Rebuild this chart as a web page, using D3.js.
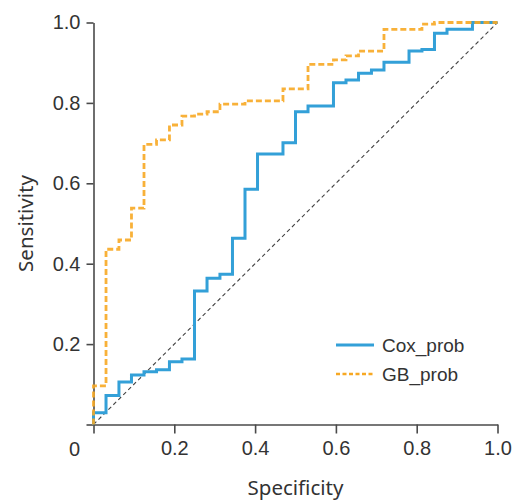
<!DOCTYPE html>
<html>
<head>
<meta charset="utf-8">
<script src="https://cdn.jsdelivr.net/npm/d3@7"></script>
<style>
  html, body { margin: 0; padding: 0; background: #fff; }
  svg { display: block; }
</style>
</head>
<body>
<svg id="chart" width="513" height="500"></svg>
<script>
// ROC step curves: each point is the right end of a horizontal run
const coxSpec = [0, 0.031, 0.063, 0.094, 0.125, 0.156, 0.188, 0.219, 0.25, 0.281, 0.313, 0.344, 0.375, 0.406, 0.469, 0.5, 0.531, 0.594, 0.625, 0.656, 0.688, 0.719, 0.781, 0.813, 0.844, 0.875, 0.938, 1.0];
const coxSens = [0, 0.029, 0.072, 0.106, 0.123, 0.131, 0.136, 0.156, 0.163, 0.332, 0.364, 0.374, 0.463, 0.585, 0.673, 0.701, 0.778, 0.792, 0.850, 0.857, 0.874, 0.882, 0.901, 0.929, 0.933, 0.973, 0.983, 1.0];

const gbSpec = [0, 0.031, 0.063, 0.094, 0.125, 0.156, 0.188, 0.219, 0.25, 0.281, 0.313, 0.375, 0.469, 0.531, 0.594, 0.625, 0.656, 0.719, 0.813, 0.844, 1.0];
const gbSens = [0, 0.096, 0.436, 0.459, 0.538, 0.697, 0.708, 0.745, 0.767, 0.772, 0.778, 0.797, 0.805, 0.835, 0.896, 0.907, 0.917, 0.929, 0.983, 0.996, 1.0];

const tickValues = [0, 0.2, 0.4, 0.6, 0.8, 1.0];
const tickLabels = ["", "0.2", "0.4", "0.6", "0.8", "1.0"];
const seriesNames = ["Cox_prob", "GB_prob"];

const colBlue = "#33a0d8";
const colOrange = "#f7a823";
const axisCol = "#4a4a4a";
const textCol = "#333";

const svg = d3.select("#chart");

const x = d3.scaleLinear().domain([0, 1]).range([93.5, 497.5]);
const y = d3.scaleLinear().domain([0, 1]).range([424.5, 22.5]);

// reference diagonal
svg.append("line")
  .attr("x1", x(0)).attr("y1", y(0))
  .attr("x2", x(1)).attr("y2", y(1))
  .attr("stroke", "#444").attr("stroke-width", 1.1)
  .attr("stroke-dasharray", "4,3");

// axes
const xAxis = svg.append("g")
  .attr("transform", `translate(0,${y(0)})`)
  .call(d3.axisBottom(x).tickValues(tickValues)
    .tickFormat((d, i) => tickLabels[i]).tickSize(9).tickSizeOuter(0).tickPadding(7));

const yAxis = svg.append("g")
  .attr("transform", `translate(${x(0)},0)`)
  .call(d3.axisLeft(y).tickValues(tickValues)
    .tickFormat((d, i) => tickLabels[i]).tickSize(7).tickSizeOuter(0).tickPadding(6));

[xAxis, yAxis].forEach(g => {
  g.select(".domain").attr("stroke", axisCol).attr("stroke-width", 1.6);
  g.selectAll(".tick line").attr("stroke", axisCol).attr("stroke-width", 1.6);
  g.selectAll(".tick text")
    .attr("fill", textCol)
    .style("font-family", "'Liberation Sans', Arial, sans-serif")
    .style("font-size", "20px");
});

// shared origin label
svg.append("text")
  .attr("x", 80).attr("y", 456)
  .attr("text-anchor", "end")
  .attr("fill", textCol)
  .style("font-family", "'Liberation Sans', Arial, sans-serif")
  .style("font-size", "20px")
  .text("0");

// axis titles
svg.append("text")
  .attr("x", (x(0) + x(1)) / 2).attr("y", 495)
  .attr("text-anchor", "middle")
  .attr("fill", textCol)
  .style("font-family", "'Noto Sans', sans-serif")
  .style("font-size", "20.5px")
  .text("Specificity");

svg.append("text")
  .attr("transform", `translate(33,${(y(0) + y(1)) / 2}) rotate(-90)`)
  .attr("text-anchor", "middle")
  .attr("fill", textCol)
  .style("font-family", "'Noto Sans', sans-serif")
  .style("font-size", "20.5px")
  .text("Sensitivity");

// curves
const line = d3.line()
  .x(d => x(d[0]))
  .y(d => y(d[1]))
  .curve(d3.curveStepBefore);

const coxPts = coxSpec.map((s, i) => [s, coxSens[i]]);
const gbPts = gbSpec.map((s, i) => [s, gbSens[i]]);

svg.append("path")
  .datum(coxPts)
  .attr("d", line)
  .attr("fill", "none")
  .attr("stroke", colBlue)
  .attr("stroke-width", 3);

svg.append("path")
  .datum(gbPts)
  .attr("d", line)
  .attr("fill", "none")
  .attr("stroke", colOrange)
  .attr("stroke-width", 2.8)
  .attr("stroke-opacity", 0.9)
  .attr("stroke-dasharray", "6,3");

// legend
const legend = svg.append("g");
const legendRows = [
  { name: seriesNames[0], color: colBlue, dash: null, w: 3, ly: 345 },
  { name: seriesNames[1], color: colOrange, dash: "4,2.5", w: 2.5, ly: 374 }
];
legendRows.forEach(r => {
  legend.append("line")
    .attr("x1", 336).attr("x2", 374)
    .attr("y1", r.ly).attr("y2", r.ly)
    .attr("stroke", r.color).attr("stroke-width", r.w)
    .attr("stroke-dasharray", r.dash);
  legend.append("text")
    .attr("x", 382).attr("y", r.ly + 7)
    .attr("fill", textCol)
    .style("font-family", "'Liberation Sans', Arial, sans-serif")
    .style("font-size", "19px")
    .text(r.name);
});
</script>
</body>
</html>
